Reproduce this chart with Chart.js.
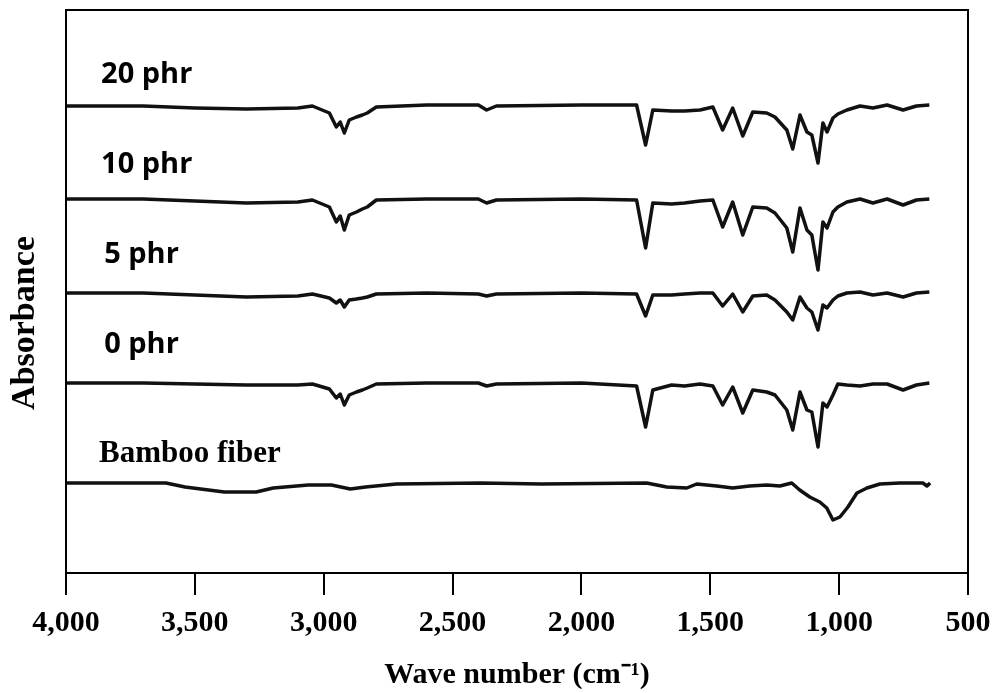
<!DOCTYPE html>
<html>
<head>
<meta charset="utf-8">
<script src="https://cdn.jsdelivr.net/npm/chart.js@4.4.1/dist/chart.umd.min.js"></script>
<style>
  html,body{margin:0;padding:0;background:#fff;}
  #wrap{width:997px;height:693px;}
</style>
</head>
<body>
<div id="wrap"><canvas id="ftir" width="997" height="693"></canvas></div>
<script>
// wavenumbers (cm-1) shared by the four composite spectra
const wavePLA = [4000,3700,3500,3300,3100,3044,2978,2951,2936,2920,2901,2873,2850,2831,2796,2600,2400,2368,2330,2000,
  1786,1751,1723,1650,1600,1540,1490,1452,1413,1374,1335,1281,1249,1203,1180,1152,1125,1106,1082,1063,
  1047,1024,1005,970,919,869,814,752,700,650];
// stacked absorbance traces (arbitrary units, offset per sample)
const abs20 = [467,467,465,464,465,467,460,446,451,440,453,456,458,460,466,468,468,463,467,468,
  468,428,463,462,462,463,466,443,465,437,461,460,456,443,424,458,441,438,410,450,
  441,455,459,463,467,465,468,463,467,468];
const abs10 = [374,374,372,370,371,373,366,351,357,343,358,361,364,366,373,374,374,370,373,374,
  373,325,370,369,370,372,373,346,371,338,366,365,360,345,321,365,343,338,303,351,
  345,361,366,371,374,370,374,368,373,374];
const abs5 = [280,280,278,276,277,279,275,270,273,266,273,274,275,276,279,280,279,277,279,280,
  279,257,278,278,279,280,280,267,279,261,277,278,273,261,253,276,265,261,243,268,
  265,273,277,280,281,278,280,276,280,281];
const abs0 = [190,190,189,188,188,189,184,175,179,168,178,181,183,185,189,190,190,187,189,190,
  187,146,183,188,187,189,187,168,186,160,183,181,178,163,143,181,163,161,126,170,
  166,178,189,188,187,189,189,183,188,190];
const waveBamboo = [4000,3612,3538,3386,3262,3196,3060,2970,2897,2838,2718,2392,2155,1747,1669,1591,1553,1475,1413,1347,
  1281,1230,1184,1153,1114,1075,1048,1024,997,966,931,892,842,764,675,659,647];
const absBamboo = [90,90,86,81,81,85,88,88,84,86,89,90,89,90,86,85,89,87,85,87,
  88,87,90,83,76,71,65,53,56,66,80,85,89,90,90,87,90];

const xTicks = [4000,3500,3000,2500,2000,1500,1000,500];
const seriesNames = ["20 phr","10 phr","5 phr","0 phr","Bamboo fiber"];
// label anchors in data units [wavenumber, absorbance]
const labelAt = [[3864,490],[3864,400],[3852,310],[3852,220],[3872,111]];
const yTitle = "Absorbance";

function toPts(xs, ys){ return xs.map((x,i)=>({x:x, y:ys[i]})); }

const traces = [toPts(wavePLA,abs20), toPts(wavePLA,abs10), toPts(wavePLA,abs5), toPts(wavePLA,abs0), toPts(waveBamboo,absBamboo)];

const frame = {
  id:"frame",
  afterDraw(chart){
    const {ctx, chartArea:a} = chart;
    ctx.save();
    ctx.strokeStyle="#000"; ctx.lineWidth=2;
    ctx.strokeRect(a.left, a.top, a.right-a.left, a.bottom-a.top);
    // y axis title, sits a little below the middle as in the source figure
    ctx.translate(25, a.top + (a.bottom-a.top)*0.556);
    ctx.rotate(-Math.PI/2);
    ctx.font = "bold 34px 'Liberation Serif'";
    ctx.textAlign="center"; ctx.textBaseline="middle"; ctx.fillStyle="#000";
    ctx.fillText(yTitle, 0, 0);
    ctx.restore();
  }
};
const tags = {
  id:"tags",
  afterDatasetsDraw(chart){
    const ctx = chart.ctx, sx = chart.scales.x, sy = chart.scales.y;
    ctx.save();
    ctx.fillStyle="#000"; ctx.textBaseline="alphabetic"; ctx.textAlign="left";
    seriesNames.forEach((t,i)=>{
      ctx.font = i<4 ? "bold 29px 'Open Sans'" : "bold 31px 'Liberation Serif'";
      ctx.fillText(t, sx.getPixelForValue(labelAt[i][0]), sy.getPixelForValue(labelAt[i][1]));
    });
    ctx.restore();
  }
};

new Chart(document.getElementById("ftir").getContext("2d"),{
  type:"line",
  data:{datasets: traces.map((d,i)=>({label:seriesNames[i], data:d, borderColor:"#111", borderWidth:3.5,
    pointRadius:0, tension:0, fill:false, borderJoinStyle:"round"}))},
  options:{
    responsive:false, animation:false,
    layout:{padding:{top:10,right:29,left:0,bottom:0}},
    plugins:{legend:{display:false}, tooltip:{enabled:false}},
    scales:{
      x:{type:"linear", reverse:true, min:500, max:4000,
        afterBuildTicks(s){ s.ticks = xTicks.map(v=>({value:v})); },
        ticks:{color:"#000", autoSkip:false, maxRotation:0, padding:10,
          font:{family:"'Liberation Serif'", weight:"bold", size:30},
          callback:v=>v.toLocaleString("en-US")},
        grid:{display:true, drawOnChartArea:false, drawTicks:true, tickLength:22, color:"#000", lineWidth:2},
        border:{display:true, color:"#000", width:2},
        title:{display:true, text:"Wave number (cm\u207B\u00B9)", color:"#000", padding:{top:0,bottom:0},
          font:{family:"'Liberation Serif'", weight:"bold", size:30}},
        afterFit(s){ s.height = 120; s.paddingLeft = 0; s.paddingRight = 0; }
      },
      y:{min:0, max:563,
        ticks:{display:false}, grid:{display:false},
        border:{display:true, color:"#000", width:2},
        title:{display:false},
        afterFit(s){ s.width = 66; }
      }
    }
  },
  plugins:[frame, tags]
});
</script>
</body>
</html>
